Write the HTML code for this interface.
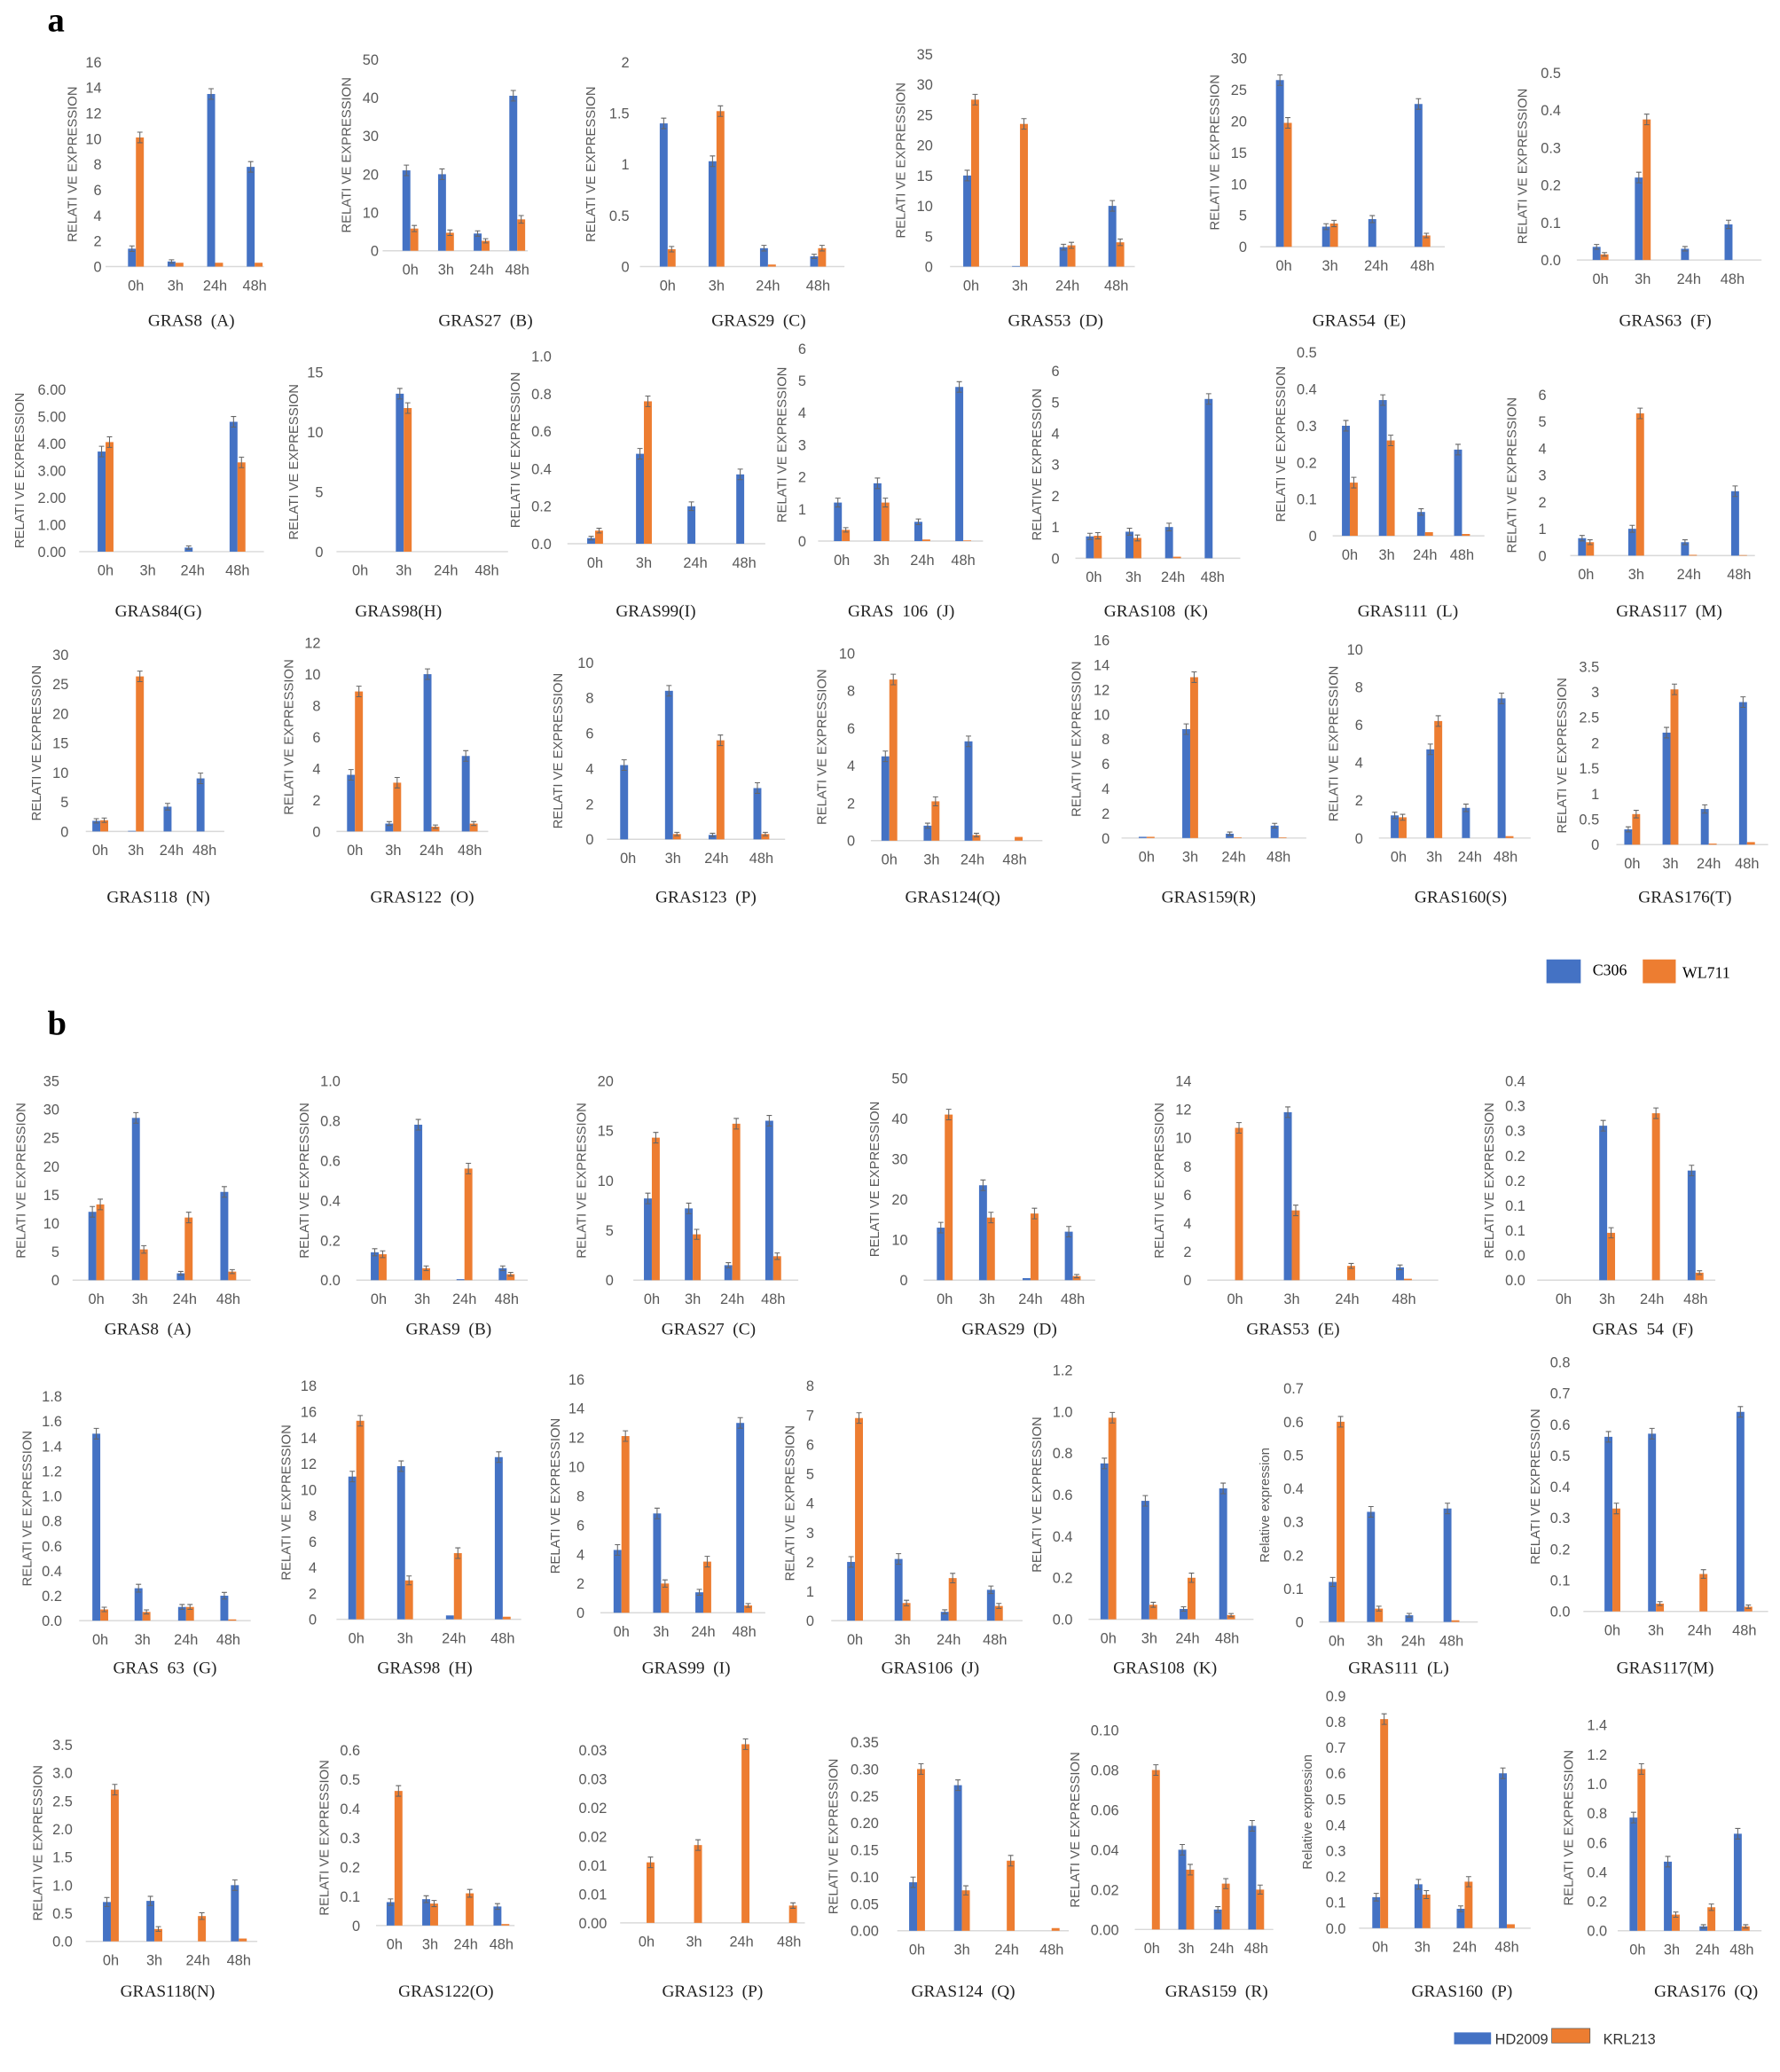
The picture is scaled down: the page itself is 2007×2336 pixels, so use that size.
<!DOCTYPE html>
<html><head><meta charset="utf-8"><style>
html,body{margin:0;padding:0;background:#fff;}
svg{display:block;}
</style></head><body>
<svg id="s" width="2007" height="2336" viewBox="0 0 1349 1570" preserveAspectRatio="none" xmlns="http://www.w3.org/2000/svg">
<rect width="1349" height="1570" fill="#fff"/>
<text x="36" y="24" font-family="Liberation Serif, serif" font-weight="bold" font-size="26">a</text>
<text x="36" y="784" font-family="Liberation Serif, serif" font-weight="bold" font-size="26">b</text>
<rect x="1172" y="727" width="26" height="18" fill="#4472C4"/>
<text x="1207" y="739" font-family="Liberation Serif, serif" font-size="12">C306</text>
<rect x="1245" y="727" width="25" height="18" fill="#ED7D31"/>
<text x="1275" y="741" font-family="Liberation Serif, serif" font-size="12">WL711</text>
<rect x="1102" y="1540" width="28" height="9" fill="#4472C4"/>
<text x="1133" y="1549" font-family="Liberation Sans, sans-serif" font-size="11" fill="#333">HD2009</text>
<rect x="1176" y="1537" width="29" height="11" fill="#ED7D31" stroke="#555" stroke-width="0.5"/>
<text x="1215" y="1549" font-family="Liberation Sans, sans-serif" font-size="11" fill="#333">KRL213</text>
</svg>
<script>
function L(max,step,dec,zero){var a=[];var n=Math.round(max/step);for(var i=n;i>=0;i--){var v=Math.round(i*step*10000)/10000;a.push(i==0&&zero!==undefined?zero:(dec<0?String(v):v.toFixed(dec)));}return a;}
var RE="RELATI VE EXPRESSION",re="Relative expression";
var C=[
[54,77,80,200,47,202,16,L(16,2,-1),[103,133,163,193],[1.4,0.4,13.5,7.8],[10.1,0.3,0.3,0.3],"GRAS8  (A)",145,243,RE],
[262,287,290,400,45,190,50,L(50,10,-1),[311,338,365,392],[21,20,4.5,40.5],[5.8,4.7,2.6,8.2],"GRAS27  (B)",368,243,RE],
[447,477,485,640,47,202,2,L(2,0.5,-1),[506,543,582,620],[1.4,1.03,0.18,0.1],[0.17,1.52,0.02,0.18],"GRAS29  (C)",575,243,RE],
[682,707,720,860,41,202,35,L(35,5,-1),[736,773,809,846],[15,0.1,3.2,10],[27.5,23.5,3.5,4],"GRAS53  (D)",800,243,RE],
[920,945,955,1095,44,187,30,L(30,5,-1),[973,1008,1043,1078],[26.5,3.2,4.4,22.7],[19.7,3.7,0,1.8],"GRAS54  (E)",1030,243,RE],
[1153,1183,1195,1335,55,197,0.5,L(0.5,0.1,1),[1213,1245,1280,1313],[0.035,0.22,0.03,0.095],[0.015,0.375,0,0],"GRAS63  (F)",1262,243,RE],
[14,50,60,200,295,418,6,L(6,1,2),[80,112,146,180],[3.7,0,0.15,4.8],[4.05,0,0,3.3],"GRAS84(G)",120,463,RE],
[222,245,255,385,282,418,15,L(15,5,-1),[273,306,338,369],[0,13.2,0,0],[0,12,0,0],"GRAS98(H)",302,463,RE],
[390,418,430,580,270,412,1,L(1,0.2,1),[451,488,527,564],[0.03,0.48,0.2,0.37],[0.07,0.76,0,0],"GRAS99(I)",497,463,RE],
[592,611,620,745,264,410,6,L(6,1,-1),[638,668,699,730],[1.2,1.8,0.6,4.8],[0.35,1.2,0.05,0.02],"GRAS  106  (J)",683,463,RE],
[785,803,815,940,281,423,6,L(6,1,-1),[829,859,889,919],[0.7,0.85,1.0,5.1],[0.72,0.65,0.05,0],"GRAS108  (K)",876,463,"RELATIVE  EXPRESSION"],
[970,998,1010,1125,267,406,0.5,L(0.5,0.1,1,"0"),[1023,1051,1080,1108],[0.3,0.37,0.065,0.235],[0.145,0.26,0.01,0.005],"GRAS111  (L)",1067,463,RE],
[1145,1172,1190,1330,299,421,6,L(6,1,-1),[1202,1240,1280,1318],[0.65,1,0.5,2.4],[0.5,5.3,0.03,0.02],"GRAS117  (M)",1265,463,RE],
[27,52,65,170,496,630,30,L(30,5,-1),[76,103,130,155],[1.8,0.1,4.2,9],[1.9,26.3,0,0],"GRAS118  (N)",120,680,RE],
[218,243,255,370,487,630,12,L(12,2,-1),[269,298,327,356],[3.6,0.5,10,4.8],[8.9,3.1,0.3,0.5],"GRAS122  (O)",320,680,RE],
[422,450,460,595,502,636,10,L(10,2,-1),[476,510,543,577],[4.2,8.4,0.25,2.9],[0,0.3,5.6,0.3],"GRAS123  (P)",535,680,RE],
[622,648,660,790,495,637,10,L(10,2,-1),[674,706,737,769],[4.5,0.8,5.3,0],[8.6,2.1,0.3,0.2],"GRAS124(Q)",722,680,RE],
[815,841,850,990,485,635,16,L(16,2,-1),[869,902,935,969],[0.1,8.8,0.35,1],[0.1,13,0.05,0.05],"GRAS159(R)",916,680,RE],
[1010,1033,1045,1160,492,635,10,L(10,2,-1),[1060,1087,1114,1141],[1.2,4.7,1.6,7.4],[1.1,6.2,0,0.1],"GRAS160(S)",1107,680,RE],
[1183,1212,1225,1340,505,640,3.5,L(3.5,0.5,-1),[1237,1266,1295,1324],[0.3,2.2,0.7,2.8],[0.6,3.05,0.02,0.05],"GRAS176(T)",1277,680,RE],
[15,45,55,190,819,970,35,L(35,5,-1),[73,106,140,173],[12,28.5,1.2,15.5],[13.3,5.4,11,1.5],"GRAS8  (A)",112,1007,RE],
[230,258,270,400,819,970,1,L(1,0.2,1),[287,320,352,384],[0.14,0.78,0.005,0.06],[0.13,0.06,0.56,0.03],"GRAS9  (B)",340,1007,RE],
[440,465,480,605,819,970,20,L(20,5,-1),[494,525,555,586],[8.2,7.2,1.5,16],[14.3,4.6,15.7,2.4],"GRAS27  (C)",537,1007,RE],
[662,688,700,830,817,970,50,L(50,10,-1),[716,748,781,813],[13,23.5,0.5,12],[41,15.5,16.5,1],"GRAS29  (D)",765,1007,RE],
[878,903,915,1090,819,970,14,L(14,2,-1),[936,979,1021,1064],[0,11.8,0,0.9],[10.7,4.9,1,0.1],"GRAS53  (E)",980,1007,RE],
[1128,1156,1165,1300,819,970,0.4,["0.4","0.3","0.3","0.2","0.2","0.1","0.1","0.0","0.0"],[1185,1218,1252,1285],[0,0.31,0,0.22],[0,0.095,0.335,0.015],"GRAS  54  (F)",1245,1007,RE],
[20,47,60,190,1058,1228,1.8,L(1.8,0.2,1),[76,108,141,173],[1.5,0.26,0.11,0.2],[0.09,0.07,0.11,0.01],"GRAS  63  (G)",125,1264,RE],
[216,240,255,395,1050,1227,18,L(18,2,-1),[270,307,344,381],[11,11.8,0.3,12.5],[15.3,3,5.1,0.2],"GRAS98  (H)",322,1264,RE],
[420,443,455,580,1045,1222,16,L(16,2,-1),[471,501,533,564],[4.3,6.8,1.4,13],[12.1,2,3.5,0.5],"GRAS99  (I)",520,1264,RE],
[598,617,630,775,1050,1228,8,L(8,1,-1),[648,684,719,754],[2,2.1,0.3,1.05],[6.9,0.6,1.45,0.5],"GRAS106  (J)",705,1264,RE],
[785,813,825,950,1038,1227,1.2,L(1.2,0.2,1),[840,871,900,930],[0.75,0.57,0.05,0.63],[0.97,0.07,0.2,0.02],"GRAS108  (K)",883,1264,RE],
[958,988,1000,1120,1052,1229,0.7,L(0.7,0.1,1,"0"),[1013,1042,1071,1100],[0.12,0.33,0.02,0.34],[0.6,0.04,0,0.005],"GRAS111  (L)",1060,1264,re],
[1163,1190,1200,1340,1032,1221,0.8,L(0.8,0.1,1),[1222,1255,1288,1322],[0.56,0.57,0,0.64],[0.33,0.025,0.12,0.015],"GRAS117(M)",1262,1264,RE],
[28,55,65,195,1322,1471,3.5,L(3.5,0.5,1),[84,117,150,181],[0.7,0.72,0,1],[2.7,0.22,0.45,0.05],"GRAS118(N)",127,1509,RE],
[245,273,285,390,1326,1459,0.6,L(0.6,0.1,1,"0"),[299,326,353,380],[0.08,0.09,0,0.065],[0.46,0.075,0.11,0.005],"GRAS122(O)",338,1509,RE],
[0,460,470,610,1326,1457,0.03,["0.03","0.03","0.02","0.02","0.01","0.01","0.00"],[490,526,562,598],[0,0,0,0],[0.0105,0.0135,0.031,0.003],"GRAS123  (P)",540,1509,""],
[631,666,680,810,1320,1463,0.35,L(0.35,0.05,2),[695,729,763,797],[0.09,0.27,0,0],[0.3,0.075,0.13,0.005],"GRAS124  (Q)",730,1509,RE],
[814,848,860,965,1311,1462,0.1,L(0.1,0.02,2),[873,899,926,952],[0,0.04,0.01,0.052],[0.08,0.03,0.023,0.02],"GRAS159  (R)",922,1509,RE],
[990,1020,1030,1160,1285,1461,0.9,L(0.9,0.1,1),[1046,1078,1110,1142],[0.12,0.17,0.075,0.6],[0.81,0.13,0.18,0.015],"GRAS160  (P)",1108,1509,re],
[1188,1218,1226,1335,1307,1463,1.4,L(1.4,0.2,1),[1241,1267,1294,1320],[0.77,0.47,0.03,0.66],[1.1,0.11,0.16,0.03],"GRAS176  (Q)",1293,1509,RE]
];
var h="",cats=["0h","3h","24h","48h"];
C.forEach(function(c){
 var lx=c[0],tx=c[1],a0=c[2],a1=c[3],yt=c[4],yb=c[5],mx=c[6],lab=c[7],cx=c[8],B=c[9],O=c[10];
 var n=lab.length;
 for(var i=0;i<n;i++){var y=yt+(yb-yt)*i/(n-1);
  h+='<text x="'+tx+'" y="'+(y+4)+'" text-anchor="end" font-family="Liberation Sans, sans-serif" font-size="11" fill="#595959">'+lab[i]+'</text>';}
 h+='<line x1="'+a0+'" y1="'+yb+'" x2="'+a1+'" y2="'+yb+'" stroke="#d9d9d9" stroke-width="1"/>';
 var bw=6;
 for(var k=0;k<4;k++){
  [[B[k],cx[k]-bw,"#4472C4"],[O[k],cx[k],"#ED7D31"]].forEach(function(b){
   if(b[0]<=0)return;var ht=(yb-yt)*b[0]/mx;var top=yb-ht;
   h+='<rect x="'+b[1]+'" y="'+top+'" width="'+bw+'" height="'+ht+'" fill="'+b[2]+'"/>';
   if(ht>3){var e=Math.min(4,ht*0.08+1);h+='<path d="M'+(b[1]+1)+' '+(top-e)+'H'+(b[1]+bw-1)+'M'+(b[1]+bw/2)+' '+(top-e)+'V'+(top+e)+'M'+(b[1]+1)+' '+(top+e)+'H'+(b[1]+bw-1)+'" stroke="#666" stroke-width="0.7" fill="none"/>';}
  });
  h+='<text x="'+cx[k]+'" y="'+(yb+18)+'" text-anchor="middle" font-family="Liberation Sans, sans-serif" font-size="11" fill="#595959">'+cats[k]+'</text>';
 }
 if(c[14])h+='<text transform="translate('+(lx+4)+','+((yt+yb)/2)+') rotate(-90)" text-anchor="middle" font-family="Liberation Sans, sans-serif" font-size="10" fill="#595959">'+c[14]+'</text>';
 h+='<text x="'+c[12]+'" y="'+(c[13]+4)+'" text-anchor="middle" font-family="Liberation Serif, serif" font-size="13" fill="#222" xml:space="preserve">'+c[11]+'</text>';
});
document.getElementById("s").insertAdjacentHTML("beforeend",h);
</script>
</body></html>
